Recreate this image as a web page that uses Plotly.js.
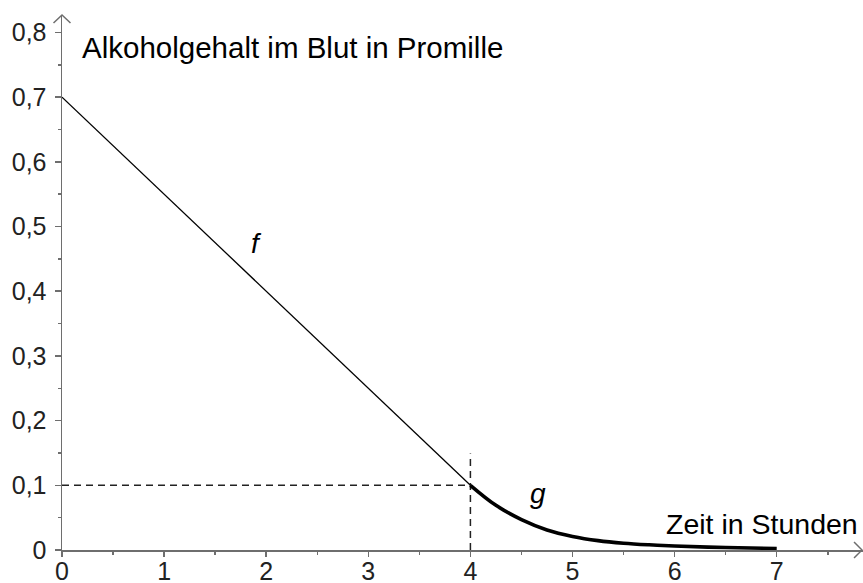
<!DOCTYPE html>
<html>
<head>
<meta charset="utf-8">
<script src="https://cdn.plot.ly/plotly-3.0.1.min.js"></script>
<style>
  html, body { margin: 0; padding: 0; background: #fff; }
  #chart { width: 863px; height: 583px; }
</style>
</head>
<body>
<div id="chart"></div>
<script>
// f: linear part
const fX = [0, 4];
const fY = [0.7, 0.1];

// g: decaying part
const gX = [4, 4.25, 4.5, 4.75, 5, 5.25, 5.5, 5.75, 6, 6.5, 7];
const gY = [0.1, 0.069, 0.047, 0.031, 0.021, 0.0145, 0.0105, 0.008, 0.0062, 0.0038, 0.0024];

// dashed guide lines at the switch point
const guideX = 4;
const guideY = 0.1;
const guideTop = 0.149;

const xTicks = [0, 1, 2, 3, 4, 5, 6, 7];
const yTicks = [0, 0.1, 0.2, 0.3, 0.4, 0.5, 0.6, 0.7, 0.8];
const yTickLabels = ["0", "0,1", "0,2", "0,3", "0,4", "0,5", "0,6", "0,7", "0,8"];

const axisColor = "#6e6e6e";
const font = "Liberation Sans, Arial, sans-serif";

const traces = [];

traces.push({
  x: [0, guideX],
  y: [guideY, guideY],
  mode: "lines",
  line: { color: "#222", width: 1.5, dash: "7px,5px" },
  hoverinfo: "skip"
});

traces.push({
  x: [guideX, guideX],
  y: [0, guideTop],
  mode: "lines",
  line: { color: "#222", width: 1.5, dash: "7px,5px" },
  hoverinfo: "skip"
});

traces.push({
  x: fX,
  y: fY,
  mode: "lines",
  line: { color: "#000", width: 1.3 }
});

traces.push({
  x: gX,
  y: gY,
  mode: "lines",
  line: { color: "#000", width: 3.6, shape: "spline", smoothing: 1 }
});

// plot area is 801 x 535 px
const layout = {
  width: 863,
  height: 583,
  margin: { l: 62, r: 0, t: 15, b: 33 },
  paper_bgcolor: "#fff",
  plot_bgcolor: "#fff",
  showlegend: false,
  font: { family: font, color: "#111" },
  xaxis: {
    range: [0, 7.845],
    showgrid: false,
    zeroline: false,
    showline: true,
    linecolor: axisColor,
    linewidth: 1.5,
    ticks: "outside",
    ticklen: 5,
    tickwidth: 1.5,
    tickcolor: axisColor,
    tickvals: xTicks,
    ticktext: xTicks.map(String),
    tickfont: { size: 25, color: "#222" },
    ticklabelstandoff: -7,
    minor: { dtick: 0.5, tick0: 0, ticks: "outside", ticklen: 3, tickwidth: 1.5, tickcolor: axisColor, showgrid: false }
  },
  yaxis: {
    range: [0, 0.8269],
    showgrid: false,
    zeroline: false,
    showline: true,
    linecolor: axisColor,
    linewidth: 1.5,
    ticks: "outside",
    ticklen: 6,
    tickwidth: 1.5,
    tickcolor: axisColor,
    tickvals: yTicks,
    ticktext: yTickLabels,
    tickfont: { size: 25, color: "#222" },
    ticklabelstandoff: 3,
    minor: { dtick: 0.05, tick0: 0, ticks: "outside", ticklen: 3, tickwidth: 1.5, tickcolor: axisColor, showgrid: false }
  },
  shapes: [
    {
      type: "path", xref: "paper", yref: "paper",
      path: "M -0.0106 0.985 L 0 1 L 0.0106 0.985",
      line: { color: axisColor, width: 1.5 }
    },
    {
      type: "path", xref: "paper", yref: "paper",
      path: "M 0.9888 0.015 L 0.9988 0 L 0.9888 -0.015",
      line: { color: axisColor, width: 1.5 }
    }
  ],
  annotations: [
    {
      text: "Alkoholgehalt im Blut in Promille",
      xref: "paper", yref: "paper",
      x: 0.0225, y: (550 - 47) / 535,
      xanchor: "left", yanchor: "middle",
      showarrow: false,
      font: { family: font, size: 29.5, color: "#000" }
    },
    {
      text: "Zeit in Stunden",
      xref: "paper", yref: "paper",
      x: 0.996, y: (550 - 524) / 535,
      xanchor: "right", yanchor: "middle",
      showarrow: false,
      font: { family: font, size: 28.5, color: "#000" }
    },
    {
      text: "<i>f</i>",
      x: 1.9, y: 0.4745,
      xanchor: "center", yanchor: "middle",
      showarrow: false,
      font: { family: font, size: 28, color: "#000" }
    },
    {
      text: "<i>g</i>",
      x: 4.66, y: 0.0866,
      xanchor: "center", yanchor: "middle",
      showarrow: false,
      font: { family: font, size: 28, color: "#000" }
    }
  ]
};

Plotly.newPlot("chart", traces, layout, { displayModeBar: false, staticPlot: true });
</script>
</body>
</html>
